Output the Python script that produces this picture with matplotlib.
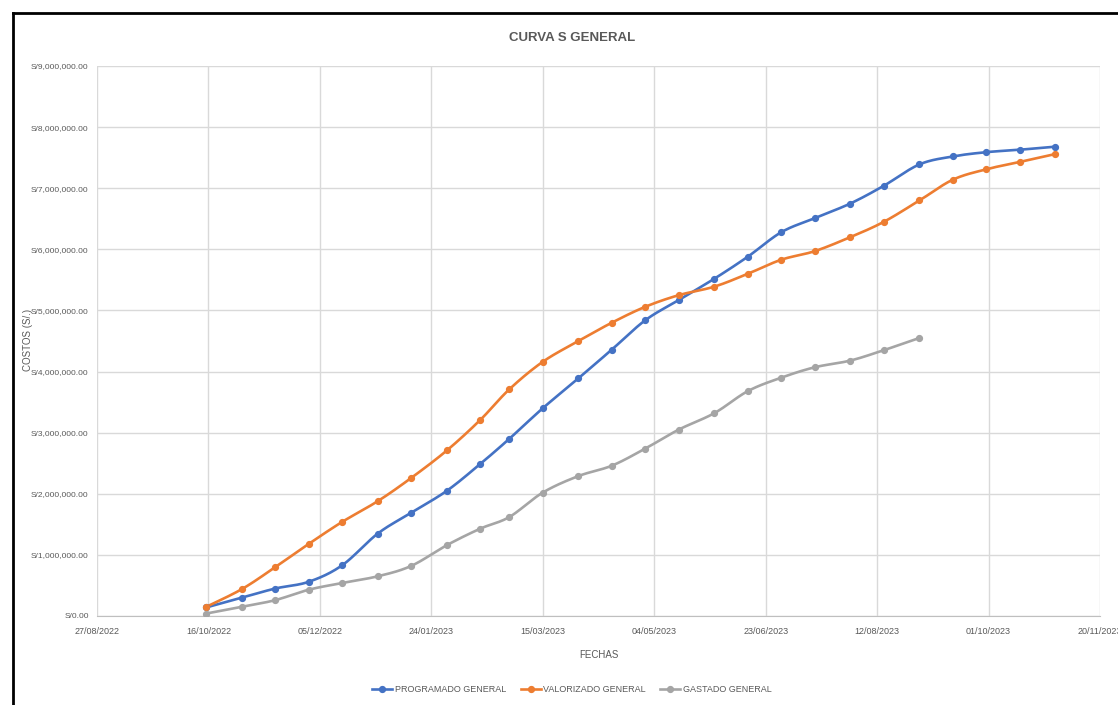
import datetime as dt
import numpy as np
import matplotlib
matplotlib.use("Agg")
import matplotlib.pyplot as plt
import matplotlib.dates as mdates
from matplotlib.lines import Line2D
from matplotlib.ticker import FuncFormatter, FixedLocator

plt.rcParams['font.family'] = ['Liberation Sans', 'DejaVu Sans']

# Semi-monthly cut-off dates (15th and month end)
fechas = [
    "2022-10-15", "2022-10-31", "2022-11-15", "2022-11-30", "2022-12-15", "2022-12-31",
    "2023-01-15", "2023-01-31", "2023-02-15", "2023-02-28", "2023-03-15", "2023-03-31",
    "2023-04-15", "2023-04-30", "2023-05-15", "2023-05-31", "2023-06-15", "2023-06-30",
    "2023-07-15", "2023-07-31", "2023-08-15", "2023-08-31", "2023-09-15", "2023-09-30",
    "2023-10-15", "2023-10-31",
]

# Cumulative costs in soles
programado = [140000, 300000, 450000, 560000, 830000, 1350000, 1690000, 2050000, 2490000,
              2900000, 3400000, 3890000, 4360000, 4840000, 5170000, 5520000, 5880000,
              6280000, 6510000, 6750000, 7040000, 7390000, 7520000, 7590000, 7630000, 7680000]
valorizado = [150000, 440000, 800000, 1180000, 1540000, 1880000, 2260000, 2710000, 3210000,
              3710000, 4160000, 4500000, 4800000, 5060000, 5250000, 5390000, 5600000,
              5830000, 5970000, 6200000, 6450000, 6800000, 7140000, 7310000, 7430000, 7560000]
gastado = [40000, 150000, 260000, 430000, 540000, 650000, 820000, 1160000, 1430000,
           1620000, 2020000, 2290000, 2460000, 2740000, 3050000, 3320000, 3680000,
           3900000, 4070000, 4180000, 4350000, 4550000]

series = [
    ("PROGRAMADO GENERAL", programado, "#4472C4"),
    ("VALORIZADO GENERAL", valorizado, "#ED7D31"),
    ("GASTADO GENERAL", gastado, "#A5A5A5"),
]

x_all = mdates.date2num([dt.datetime.strptime(f, "%Y-%m-%d") for f in fechas])


def smooth(x, y, n=20):
    """Catmull-Rom style smoothing through every point (like a spreadsheet smoothed line)."""
    x = np.asarray(x, float)
    y = np.asarray(y, float)
    xs, ys = [], []
    for i in range(len(x) - 1):
        p0 = (x[i - 1], y[i - 1]) if i > 0 else (x[i], y[i])
        p1 = (x[i], y[i])
        p2 = (x[i + 1], y[i + 1])
        p3 = (x[i + 2], y[i + 2]) if i + 2 < len(x) else (x[i + 1], y[i + 1])
        c1 = (p1[0] + (p2[0] - p0[0]) / 6, p1[1] + (p2[1] - p0[1]) / 6)
        c2 = (p2[0] - (p3[0] - p1[0]) / 6, p2[1] - (p3[1] - p1[1]) / 6)
        t = np.linspace(0, 1, n, endpoint=False)
        b0, b1, b2, b3 = (1 - t) ** 3, 3 * (1 - t) ** 2 * t, 3 * (1 - t) * t ** 2, t ** 3
        xs.append(b0 * p1[0] + b1 * c1[0] + b2 * c2[0] + b3 * p2[0])
        ys.append(b0 * p1[1] + b1 * c1[1] + b2 * c2[1] + b3 * p2[1])
    xs.append([x[-1]])
    ys.append([y[-1]])
    return np.concatenate(xs), np.concatenate(ys)


fig = plt.figure(figsize=(11.18, 7.05), dpi=100)
ax = fig.add_axes([97 / 1118, 89 / 705, 1003 / 1118, 550 / 705])

handles = []
for name, vals, col in series:
    xv = x_all[:len(vals)]
    sx, sy = smooth(xv, vals)
    ax.plot(sx, sy, color=col, lw=1.9, solid_capstyle="round", zorder=3)
    ax.plot(xv, vals, ls="none", marker="o", ms=4.2, color=col, zorder=4)
    handles.append(Line2D([0], [0], color=col, lw=1.9, marker="o", ms=4.2, label=name))

x0 = mdates.date2num(dt.datetime(2022, 8, 27))
ticks = [x0 + 50 * k for k in range(10)]
ax.set_xlim(ticks[0], ticks[-1])
ax.xaxis.set_major_locator(FixedLocator(ticks))
ax.xaxis.set_major_formatter(mdates.DateFormatter("%d/%m/%Y"))
ax.set_ylim(0, 9000000)
ax.set_yticks(np.arange(0, 9000001, 1000000))
ax.yaxis.set_major_formatter(FuncFormatter(lambda v, p: "S/{:,.2f}".format(v)))

ax.grid(True, color="#D9D9D9", lw=1)
ax.set_axisbelow(True)
for s in ("top", "right", "left"):
    ax.spines[s].set_visible(False)
ax.spines["bottom"].set_color("#BFBFBF")
ax.tick_params(axis="y", length=0, labelsize=6, colors="#595959", pad=6)
ax.tick_params(axis="x", length=0, labelsize=6.5, colors="#595959", pad=8)

ax.set_xlabel("FECHAS", fontsize=7, color="#595959", labelpad=10)
fig.text(28 / 1118, 1 - 340 / 705, "COSTOS (S/.)", rotation=90, ha="center", va="center",
         fontsize=7, color="#595959")
fig.text(572 / 1118, 1 - 38 / 705, "CURVA S GENERAL", ha="center", va="center",
         fontsize=9.5, fontweight="bold", color="#595959")

fig.legend(handles=handles, loc="center", bbox_to_anchor=(572 / 1118, 1 - 690 / 705),
           ncol=3, frameon=False, fontsize=6.5, labelcolor="#595959",
           handlelength=2.2, columnspacing=1.6, handletextpad=0.3)

# Outer chart frame
fig.add_artist(Line2D([13 / 1118, 13 / 1118], [0, 1 - 13 / 705], color="black", lw=2))
fig.add_artist(Line2D([13 / 1118, 1], [1 - 13 / 705, 1 - 13 / 705], color="black", lw=2))

fig.savefig("out.png", dpi=100)
